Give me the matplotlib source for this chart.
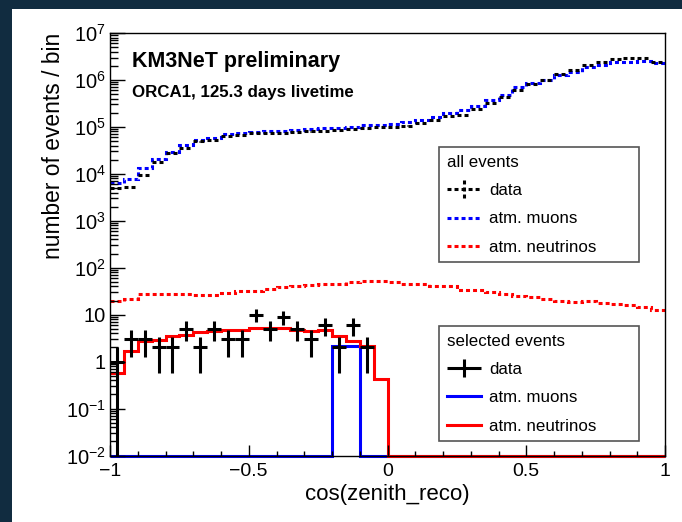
import numpy as np
import matplotlib
matplotlib.use("Agg")
import matplotlib.pyplot as plt
from matplotlib.patches import Rectangle
from matplotlib.lines import Line2D
from matplotlib.legend_handler import HandlerErrorbar
from matplotlib.ticker import FixedLocator, LogLocator, MultipleLocator, NullFormatter

plt.rcParams["font.family"] = ["Liberation Sans", "DejaVu Sans"]
plt.rcParams["mathtext.fontset"] = "custom"
plt.rcParams["mathtext.rm"] = "Liberation Sans"
plt.rcParams["mathtext.it"] = "Liberation Sans:italic"
plt.rcParams["mathtext.bf"] = "Liberation Sans:bold"

# --------------------------------------------------
# data: 40 bins of cos(zenith_reco), width 0.05
# --------------------------------------------------
bin_width = 0.05
n_bins = 40

# all events
all_data = [5.0e3, 5.2e3, 9.5e3, 1.8e4, 2.8e4, 3.5e4, 4.9e4, 5.3e4, 6.4e4, 6.8e4,
            7.3e4, 7.3e4, 7.5e4, 7.7e4, 8.0e4, 8.2e4, 8.5e4, 9.0e4, 9.5e4, 1.0e5,
            1.0e5, 1.07e5, 1.2e5, 1.4e5, 1.74e5, 1.8e5, 2.4e5, 3.2e5, 4.4e5, 6.2e5,
            8.2e5, 1.0e6, 1.35e6, 1.6e6, 2.1e6, 2.45e6, 2.75e6, 2.9e6, 2.9e6, 2.45e6]
all_muons = [6.5e3, 7.7e3, 1.3e4, 2.1e4, 2.9e4, 4.1e4, 5.3e4, 5.8e4, 7.0e4, 7.3e4,
             7.9e4, 8.0e4, 8.3e4, 8.6e4, 9.0e4, 9.3e4, 9.5e4, 1.0e5, 1.08e5, 1.12e5,
             1.16e5, 1.26e5, 1.41e5, 1.65e5, 1.95e5, 2.3e5, 2.8e5, 3.7e5, 4.8e5, 7.0e5,
             8.5e5, 1.0e6, 1.28e6, 1.5e6, 1.85e6, 2.1e6, 2.45e6, 2.45e6, 2.55e6, 2.26e6]
all_nu = [20, 22, 27.7, 27.7, 28, 27.7, 26, 25.8, 29.5, 32,
          32, 36, 39, 41, 43, 45.6, 45.6, 49, 51, 52,
          49, 45.6, 44, 41, 40, 34, 33, 30, 27, 25,
          24, 21.5, 20, 18.5, 20, 17.7, 17, 16, 14.5, 12.8]

# selected events
sel_data = [1, 3, 3, 2, 2, 5, 2, 5, 3, 3,
            10, 5, 9, 5, 3, 6, 2, 6, 2, 0,
            0, 0, 0, 0, 0, 0, 0, 0, 0, 0,
            0, 0, 0, 0, 0, 0, 0, 0, 0, 0]
sel_muons = [0, 0, 0, 0, 0, 0, 0, 0, 0, 0,
             0, 0, 0, 0, 0, 0, 2.1, 2.1, 0, 0,
             0, 0, 0, 0, 0, 0, 0, 0, 0, 0,
             0, 0, 0, 0, 0, 0, 0, 0, 0, 0]
sel_nu = [0.57, 1.65, 2.7, 2.9, 3.5, 3.75, 4.2, 4.4, 4.7, 4.8,
          5.2, 5.2, 5.2, 4.8, 4.4, 4.7, 3.5, 2.7, 2.1, 0.42,
          0, 0, 0, 0, 0, 0, 0, 0, 0, 0,
          0, 0, 0, 0, 0, 0, 0, 0, 0, 0]

x_ticks = [-1, -0.5, 0, 0.5, 1]
x_ticklabels = ["\u22121", "\u22120.5", "0", "0.5", "1"]
y_ticks = [1e-2, 1e-1, 1, 10, 1e2, 1e3, 1e4, 1e5, 1e6, 1e7]
y_ticklabels = ["$10^{-2}$", "$10^{-1}$", "1", "10", "$10^{2}$", "$10^{3}$",
                "$10^{4}$", "$10^{5}$", "$10^{6}$", "$10^{7}$"]

Y_LOW, Y_HIGH = 1e-2, 1e7
LW = 2.2
DOT = (0, (1.3, 1.0))

edges = -1 + bin_width * np.arange(n_bins + 1)
centers = edges[:-1] + bin_width / 2

# --------------------------------------------------
# figure
# --------------------------------------------------
fig = plt.figure(figsize=(6.82, 5.22), dpi=100)
fig.patch.set_facecolor("#112c40")
bg = fig.add_axes([0, 0, 1, 1], zorder=-5)
bg.set_axis_off()
bg.set_xlim(0, 682)
bg.set_ylim(522, 0)
bg.add_patch(Rectangle((12, 9), 670, 513, facecolor="white", edgecolor="none"))

ax = fig.add_axes([110 / 682, 1 - 455.5 / 522, 555 / 682, 422.5 / 522])
ax.set_yscale("log")
ax.set_xlim(-1, 1)
ax.set_ylim(Y_LOW, Y_HIGH)

# all events
ax.stairs(all_muons, edges, baseline=None, color="#0000ff", lw=LW, linestyle=DOT)
ax.stairs(all_nu, edges, baseline=None, color="#ff0000", lw=LW, linestyle=DOT)
all_data = np.array(all_data)
h_data_all = ax.errorbar(centers, all_data, xerr=bin_width / 2, yerr=np.sqrt(all_data),
                         fmt="none", ecolor="black", elinewidth=LW, capsize=0)
for coll in h_data_all.lines[2]:
    coll.set_linestyle(DOT)

# selected events (empty bins are drawn on the frame bottom, like ROOT)
ax.stairs(np.clip(sel_muons, Y_LOW, None), edges, baseline=None, color="#0000ff",
          lw=LW, clip_on=False)
ax.stairs(np.clip(sel_nu, Y_LOW, None), edges, baseline=None, color="#ff0000",
          lw=LW, clip_on=False)
sel_data = np.array(sel_data, dtype=float)
mask = sel_data > 0
err = np.sqrt(sel_data[mask])
lo = sel_data[mask] - np.clip(sel_data[mask] - err, Y_LOW, None)
h_data_sel = ax.errorbar(centers[mask], sel_data[mask], xerr=bin_width / 2,
                         yerr=[lo, err], fmt="none", ecolor="black",
                         elinewidth=LW, capsize=0, clip_on=False)

# axes styling (ROOT look)
for s in ax.spines.values():
    s.set_linewidth(1.0)
ax.xaxis.set_major_locator(FixedLocator(x_ticks))
ax.set_xticklabels(x_ticklabels)
ax.xaxis.set_minor_locator(MultipleLocator(0.1))
ax.yaxis.set_major_locator(FixedLocator(y_ticks))
ax.set_yticklabels(y_ticklabels)
ax.yaxis.set_minor_locator(LogLocator(base=10, subs=np.arange(2, 10), numticks=20))
ax.yaxis.set_minor_formatter(NullFormatter())
ax.tick_params(axis="x", which="major", direction="in", length=7.7, width=1, labelsize=14, pad=5.5)
ax.tick_params(axis="x", which="minor", direction="in", length=3.8, width=1)
ax.tick_params(axis="y", which="major", direction="in", length=11, width=1, labelsize=14.5, pad=3)
ax.tick_params(axis="y", which="minor", direction="in", length=5.5, width=1)

ax.set_xlabel("cos(zenith_reco)", fontsize=16, labelpad=3)
ax.set_ylabel("number of events / bin", fontsize=16.4, loc="top")
ax.yaxis.set_label_coords(-0.081, 1.0)

ax.text(0.04, 0.933, "KM3NeT preliminary", transform=ax.transAxes,
        fontsize=15.5, fontweight="bold", va="center", ha="left")
ax.text(0.04, 0.860, "ORCA1, 125.3 days livetime", transform=ax.transAxes,
        fontsize=12.2, fontweight="bold", va="center", ha="left")

# legends
leg_kw = dict(mode="expand", borderaxespad=0, fancybox=False, framealpha=1,
              edgecolor="#555555", fontsize=12.2, title_fontsize=12.2,
              alignment="left", handlelength=2.0, handletextpad=0.5,
              labelspacing=0.79, borderpad=0.45, loc="upper left")
err_handler = {type(h_data_all): HandlerErrorbar(xerr_size=1.0, yerr_size=0.55)}
h_mu_line = Line2D([], [], color="#0000ff", lw=LW, linestyle=DOT)
h_nu_line = Line2D([], [], color="#ff0000", lw=LW, linestyle=DOT)
leg1 = ax.legend([h_data_all, h_mu_line, h_nu_line],
                 ["data", "atm. muons", "atm. neutrinos"], handler_map=err_handler,
                 title="all events", bbox_to_anchor=(0.593, 0.730, 0.360, 0), **leg_kw)
leg1.get_frame().set_linewidth(1.2)
ax.add_artist(leg1)
h_mu_line2 = Line2D([], [], color="#0000ff", lw=LW)
h_nu_line2 = Line2D([], [], color="#ff0000", lw=LW)
leg2 = ax.legend([h_data_sel, h_mu_line2, h_nu_line2],
                 ["data", "atm. muons", "atm. neutrinos"], handler_map=err_handler,
                 title="selected events", bbox_to_anchor=(0.593, 0.3065, 0.360, 0), **leg_kw)
leg2.get_frame().set_linewidth(1.2)

fig.savefig("out.png", dpi=100, facecolor=fig.get_facecolor())
